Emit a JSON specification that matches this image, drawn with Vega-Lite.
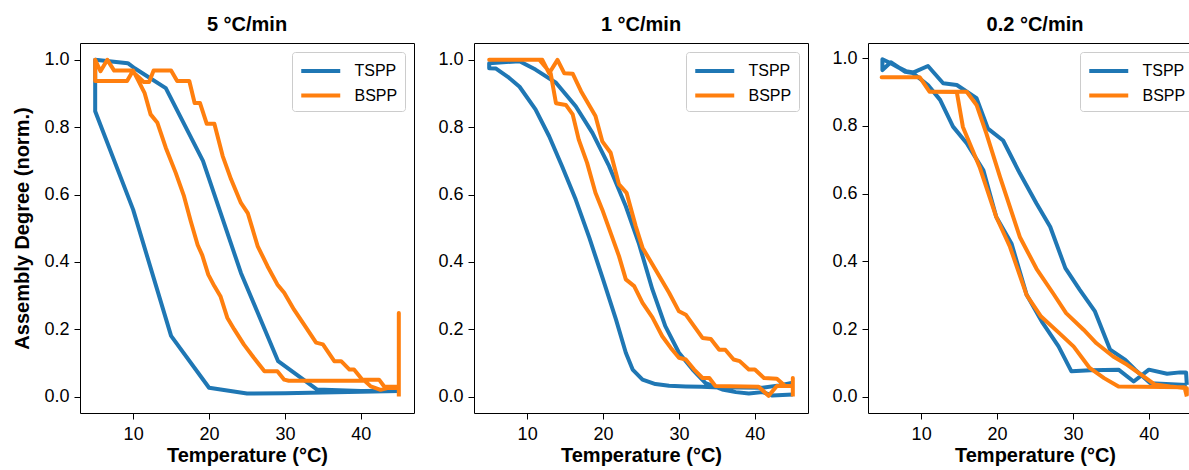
{
"$schema": "https://vega.github.io/schema/vega-lite/v6.json",
"padding": {"left": 12, "top": 14, "right": 0, "bottom": 0},
"spacing": 22,
"config": {
  "font": "Liberation Sans",
  "view": {"stroke": "#000", "strokeWidth": 1},
  "axis": {"domain": false, "grid": false, "tickColor": "#000", "tickSize": 6, "tickWidth": 1, "labelFont": "Liberation Sans", "labelFontSize": 18, "labelColor": "#000", "titleFont": "Liberation Sans", "titleFontSize": 20, "titleFontWeight": "bold", "titleColor": "#000"},
  "axisX": {"labelPadding": 6, "titlePadding": 2},
  "axisY": {"labelPadding": 5, "titlePadding": 11},
  "title": {"font": "Liberation Sans", "fontSize": 20, "fontWeight": "bold", "color": "#000", "offset": 8},
  "legend": {"orient": "top-right", "offset": 9, "padding": 7, "strokeColor": "#cccccc", "cornerRadius": 3, "fillColor": "rgba(255,255,255,0.8)", "symbolType": "M-1,0H3", "symbolSize": 380, "symbolStrokeWidth": 4, "labelFontSize": 16, "labelFont": "Liberation Sans", "labelColor": "#000", "labelOffset": 31.5, "rowPadding": 4.5}
},
"datasets": {
"r5": [
{"s":"TSPP","i":1,"t":45,"v":0.016},{"s":"TSPP","i":2,"t":40,"v":0.014},{"s":"TSPP","i":3,"t":35,"v":0.012},{"s":"TSPP","i":4,"t":30,"v":0.010},{"s":"TSPP","i":5,"t":25,"v":0.009},{"s":"TSPP","i":6,"t":20,"v":0.026},{"s":"TSPP","i":7,"t":15,"v":0.18},{"s":"TSPP","i":8,"t":10,"v":0.555},{"s":"TSPP","i":9,"t":5,"v":0.847},{"s":"TSPP","i":10,"t":5,"v":1.0},{"s":"TSPP","i":11,"t":9.3,"v":0.99},{"s":"TSPP","i":12,"t":10.2,"v":0.975},{"s":"TSPP","i":13,"t":14.3,"v":0.916},{"s":"TSPP","i":14,"t":19.2,"v":0.70},{"s":"TSPP","i":15,"t":24.2,"v":0.367},{"s":"TSPP","i":16,"t":29.1,"v":0.105},{"s":"TSPP","i":17,"t":34.2,"v":0.021},{"s":"TSPP","i":18,"t":40,"v":0.016},{"s":"TSPP","i":19,"t":45,"v":0.017},
{"s":"BSPP","i":1,"t":45,"v":0.0},{"s":"BSPP","i":2,"t":45,"v":0.248},{"s":"BSPP","i":3,"t":45,"v":0.025},{"s":"BSPP","i":4,"t":43.5,"v":0.025},{"s":"BSPP","i":5,"t":42.6,"v":0.02},{"s":"BSPP","i":6,"t":41.3,"v":0.03},{"s":"BSPP","i":7,"t":40.5,"v":0.047},{"s":"BSPP","i":8,"t":30.5,"v":0.047},{"s":"BSPP","i":9,"t":29.9,"v":0.05},{"s":"BSPP","i":10,"t":29,"v":0.075},{"s":"BSPP","i":11,"t":27.3,"v":0.075},{"s":"BSPP","i":12,"t":25.9,"v":0.115},{"s":"BSPP","i":13,"t":24.6,"v":0.154},{"s":"BSPP","i":14,"t":23.3,"v":0.2},{"s":"BSPP","i":15,"t":22.4,"v":0.234},{"s":"BSPP","i":16,"t":21.5,"v":0.298},{"s":"BSPP","i":17,"t":20.7,"v":0.328},{"s":"BSPP","i":18,"t":19.9,"v":0.362},{"s":"BSPP","i":19,"t":19.1,"v":0.42},{"s":"BSPP","i":20,"t":18.5,"v":0.45},{"s":"BSPP","i":21,"t":17.6,"v":0.52},{"s":"BSPP","i":22,"t":16.7,"v":0.595},{"s":"BSPP","i":23,"t":15.6,"v":0.665},{"s":"BSPP","i":24,"t":14.3,"v":0.739},{"s":"BSPP","i":25,"t":13.2,"v":0.813},{"s":"BSPP","i":26,"t":12.3,"v":0.838},{"s":"BSPP","i":27,"t":11.5,"v":0.902},{"s":"BSPP","i":28,"t":10.6,"v":0.942},{"s":"BSPP","i":29,"t":10,"v":0.968},{"s":"BSPP","i":30,"t":9.2,"v":0.937},{"s":"BSPP","i":31,"t":5,"v":0.937},{"s":"BSPP","i":32,"t":5,"v":1.0},{"s":"BSPP","i":33,"t":5.7,"v":0.966},{"s":"BSPP","i":34,"t":6.6,"v":1.0},{"s":"BSPP","i":35,"t":7.5,"v":0.968},{"s":"BSPP","i":36,"t":9.8,"v":0.968},{"s":"BSPP","i":37,"t":11.4,"v":0.934},{"s":"BSPP","i":38,"t":12.1,"v":0.934},{"s":"BSPP","i":39,"t":12.7,"v":0.968},{"s":"BSPP","i":40,"t":15,"v":0.968},{"s":"BSPP","i":41,"t":15.8,"v":0.937},{"s":"BSPP","i":42,"t":17.4,"v":0.937},{"s":"BSPP","i":43,"t":18.1,"v":0.872},{"s":"BSPP","i":44,"t":18.8,"v":0.872},{"s":"BSPP","i":45,"t":19.7,"v":0.81},{"s":"BSPP","i":46,"t":20.7,"v":0.81},{"s":"BSPP","i":47,"t":21.8,"v":0.714},{"s":"BSPP","i":48,"t":22.9,"v":0.645},{"s":"BSPP","i":49,"t":24.2,"v":0.575},{"s":"BSPP","i":50,"t":25.1,"v":0.545},{"s":"BSPP","i":51,"t":26.4,"v":0.447},{"s":"BSPP","i":52,"t":27.7,"v":0.387},{"s":"BSPP","i":53,"t":29,"v":0.333},{"s":"BSPP","i":54,"t":29.9,"v":0.308},{"s":"BSPP","i":55,"t":31.2,"v":0.258},{"s":"BSPP","i":56,"t":32.5,"v":0.214},{"s":"BSPP","i":57,"t":34.1,"v":0.16},{"s":"BSPP","i":58,"t":35,"v":0.155},{"s":"BSPP","i":59,"t":36.5,"v":0.105},{"s":"BSPP","i":60,"t":37.4,"v":0.105},{"s":"BSPP","i":61,"t":38.5,"v":0.08},{"s":"BSPP","i":62,"t":39.1,"v":0.08},{"s":"BSPP","i":63,"t":40.2,"v":0.05},{"s":"BSPP","i":64,"t":42.4,"v":0.05},{"s":"BSPP","i":65,"t":43.1,"v":0.029},{"s":"BSPP","i":66,"t":45,"v":0.029}
],
"r1": [
{"s":"TSPP","i":1,"t":45,"v":0.041},{"s":"TSPP","i":2,"t":43.2,"v":0.033},{"s":"TSPP","i":3,"t":41,"v":0.026},{"s":"TSPP","i":4,"t":38,"v":0.027},{"s":"TSPP","i":5,"t":35.3,"v":0.027},{"s":"TSPP","i":6,"t":33,"v":0.029},{"s":"TSPP","i":7,"t":30.9,"v":0.030},{"s":"TSPP","i":8,"t":28.7,"v":0.032},{"s":"TSPP","i":9,"t":26.9,"v":0.037},{"s":"TSPP","i":10,"t":25.2,"v":0.05},{"s":"TSPP","i":11,"t":23.9,"v":0.08},{"s":"TSPP","i":12,"t":23,"v":0.13},{"s":"TSPP","i":13,"t":21.7,"v":0.229},{"s":"TSPP","i":14,"t":20,"v":0.348},{"s":"TSPP","i":15,"t":18.2,"v":0.471},{"s":"TSPP","i":16,"t":16.4,"v":0.585},{"s":"TSPP","i":17,"t":14.6,"v":0.684},{"s":"TSPP","i":18,"t":12.9,"v":0.773},{"s":"TSPP","i":19,"t":11.1,"v":0.853},{"s":"TSPP","i":20,"t":9,"v":0.92},{"s":"TSPP","i":21,"t":7.6,"v":0.947},{"s":"TSPP","i":22,"t":5.9,"v":0.974},{"s":"TSPP","i":23,"t":5,"v":0.975},{"s":"TSPP","i":24,"t":5,"v":0.99},{"s":"TSPP","i":25,"t":9,"v":0.996},{"s":"TSPP","i":26,"t":11.1,"v":0.971},{"s":"TSPP","i":27,"t":13.8,"v":0.932},{"s":"TSPP","i":28,"t":16.4,"v":0.862},{"s":"TSPP","i":29,"t":18.6,"v":0.783},{"s":"TSPP","i":30,"t":20.8,"v":0.684},{"s":"TSPP","i":31,"t":23,"v":0.565},{"s":"TSPP","i":32,"t":24.7,"v":0.456},{"s":"TSPP","i":33,"t":26.5,"v":0.318},{"s":"TSPP","i":34,"t":28.2,"v":0.209},{"s":"TSPP","i":35,"t":30,"v":0.13},{"s":"TSPP","i":36,"t":31.8,"v":0.08},{"s":"TSPP","i":37,"t":33.5,"v":0.04},{"s":"TSPP","i":38,"t":35.7,"v":0.021},{"s":"TSPP","i":39,"t":37.5,"v":0.013},{"s":"TSPP","i":40,"t":39.2,"v":0.009},{"s":"TSPP","i":41,"t":41,"v":0.013},{"s":"TSPP","i":42,"t":42.3,"v":0.003},{"s":"TSPP","i":43,"t":45,"v":0.006},
{"s":"BSPP","i":1,"t":45,"v":0.0},{"s":"BSPP","i":2,"t":45,"v":0.055},{"s":"BSPP","i":3,"t":45,"v":0.031},{"s":"BSPP","i":4,"t":42.9,"v":0.031},{"s":"BSPP","i":5,"t":41.8,"v":0.002},{"s":"BSPP","i":6,"t":40.5,"v":0.029},{"s":"BSPP","i":7,"t":34.8,"v":0.031},{"s":"BSPP","i":8,"t":34,"v":0.055},{"s":"BSPP","i":9,"t":33.1,"v":0.055},{"s":"BSPP","i":10,"t":32,"v":0.08},{"s":"BSPP","i":11,"t":30.9,"v":0.11},{"s":"BSPP","i":12,"t":30,"v":0.115},{"s":"BSPP","i":13,"t":28.9,"v":0.145},{"s":"BSPP","i":14,"t":27.8,"v":0.179},{"s":"BSPP","i":15,"t":26.5,"v":0.235},{"s":"BSPP","i":16,"t":25.2,"v":0.278},{"s":"BSPP","i":17,"t":24.1,"v":0.328},{"s":"BSPP","i":18,"t":23,"v":0.348},{"s":"BSPP","i":19,"t":22.1,"v":0.417},{"s":"BSPP","i":20,"t":21,"v":0.486},{"s":"BSPP","i":21,"t":19.9,"v":0.555},{"s":"BSPP","i":22,"t":19,"v":0.605},{"s":"BSPP","i":23,"t":17.9,"v":0.694},{"s":"BSPP","i":24,"t":16.8,"v":0.763},{"s":"BSPP","i":25,"t":16,"v":0.838},{"s":"BSPP","i":26,"t":15.1,"v":0.866},{"s":"BSPP","i":27,"t":13.8,"v":0.871},{"s":"BSPP","i":28,"t":13.1,"v":0.96},{"s":"BSPP","i":29,"t":11.6,"v":1.0},{"s":"BSPP","i":30,"t":5,"v":1.0},{"s":"BSPP","i":31,"t":12,"v":1.0},{"s":"BSPP","i":32,"t":12.9,"v":0.96},{"s":"BSPP","i":33,"t":14,"v":1.0},{"s":"BSPP","i":34,"t":14.9,"v":0.96},{"s":"BSPP","i":35,"t":16,"v":0.959},{"s":"BSPP","i":36,"t":17.1,"v":0.907},{"s":"BSPP","i":37,"t":19,"v":0.833},{"s":"BSPP","i":38,"t":19.9,"v":0.758},{"s":"BSPP","i":39,"t":21,"v":0.724},{"s":"BSPP","i":40,"t":22.1,"v":0.63},{"s":"BSPP","i":41,"t":23.1,"v":0.605},{"s":"BSPP","i":42,"t":24.3,"v":0.506},{"s":"BSPP","i":43,"t":25.2,"v":0.442},{"s":"BSPP","i":44,"t":26.9,"v":0.377},{"s":"BSPP","i":45,"t":28.7,"v":0.308},{"s":"BSPP","i":46,"t":30,"v":0.253},{"s":"BSPP","i":47,"t":30.9,"v":0.243},{"s":"BSPP","i":48,"t":33.1,"v":0.174},{"s":"BSPP","i":49,"t":34.2,"v":0.171},{"s":"BSPP","i":50,"t":35.3,"v":0.139},{"s":"BSPP","i":51,"t":36.1,"v":0.139},{"s":"BSPP","i":52,"t":37.2,"v":0.11},{"s":"BSPP","i":53,"t":38,"v":0.105},{"s":"BSPP","i":54,"t":39.2,"v":0.08},{"s":"BSPP","i":55,"t":40,"v":0.08},{"s":"BSPP","i":56,"t":41.2,"v":0.055},{"s":"BSPP","i":57,"t":42.9,"v":0.053},{"s":"BSPP","i":58,"t":44,"v":0.031},{"s":"BSPP","i":59,"t":45,"v":0.031}
],
"r02": [
{"s":"TSPP","i":1,"t":45,"v":0.035},{"s":"TSPP","i":2,"t":44.9,"v":0.072},{"s":"TSPP","i":3,"t":44.1,"v":0.072},{"s":"TSPP","i":4,"t":42.4,"v":0.068},{"s":"TSPP","i":5,"t":40,"v":0.08},{"s":"TSPP","i":6,"t":38,"v":0.045},{"s":"TSPP","i":7,"t":36,"v":0.08},{"s":"TSPP","i":8,"t":32.3,"v":0.078},{"s":"TSPP","i":9,"t":29.8,"v":0.075},{"s":"TSPP","i":10,"t":28.1,"v":0.149},{"s":"TSPP","i":11,"t":25.9,"v":0.222},{"s":"TSPP","i":12,"t":23.9,"v":0.301},{"s":"TSPP","i":13,"t":21.9,"v":0.453},{"s":"TSPP","i":14,"t":19.9,"v":0.531},{"s":"TSPP","i":15,"t":18.2,"v":0.669},{"s":"TSPP","i":16,"t":16,"v":0.749},{"s":"TSPP","i":17,"t":14.2,"v":0.798},{"s":"TSPP","i":18,"t":12.5,"v":0.877},{"s":"TSPP","i":19,"t":10.9,"v":0.921},{"s":"TSPP","i":20,"t":8.9,"v":0.956},{"s":"TSPP","i":21,"t":7.9,"v":0.96},{"s":"TSPP","i":22,"t":6,"v":0.988},{"s":"TSPP","i":23,"t":4.9,"v":0.965},{"s":"TSPP","i":24,"t":4.9,"v":0.997},{"s":"TSPP","i":25,"t":6,"v":0.985},{"s":"TSPP","i":26,"t":7,"v":0.973},{"s":"TSPP","i":27,"t":8,"v":0.962},{"s":"TSPP","i":28,"t":9,"v":0.958},{"s":"TSPP","i":29,"t":10.9,"v":0.977},{"s":"TSPP","i":30,"t":12.9,"v":0.926},{"s":"TSPP","i":31,"t":14.7,"v":0.921},{"s":"TSPP","i":32,"t":17.3,"v":0.882},{"s":"TSPP","i":33,"t":18.8,"v":0.792},{"s":"TSPP","i":34,"t":20.8,"v":0.757},{"s":"TSPP","i":35,"t":23,"v":0.66},{"s":"TSPP","i":36,"t":25.2,"v":0.571},{"s":"TSPP","i":37,"t":27,"v":0.502},{"s":"TSPP","i":38,"t":29,"v":0.38},{"s":"TSPP","i":39,"t":30.9,"v":0.316},{"s":"TSPP","i":40,"t":32.9,"v":0.252},{"s":"TSPP","i":41,"t":34.9,"v":0.139},{"s":"TSPP","i":42,"t":36.9,"v":0.109},{"s":"TSPP","i":43,"t":38.2,"v":0.08},{"s":"TSPP","i":44,"t":40.2,"v":0.04},{"s":"TSPP","i":45,"t":45,"v":0.035},
{"s":"BSPP","i":1,"t":45,"v":0.001},{"s":"BSPP","i":2,"t":44.7,"v":0.028},{"s":"BSPP","i":3,"t":36,"v":0.03},{"s":"BSPP","i":4,"t":34.1,"v":0.055},{"s":"BSPP","i":5,"t":32.2,"v":0.085},{"s":"BSPP","i":6,"t":30.1,"v":0.148},{"s":"BSPP","i":7,"t":28.2,"v":0.188},{"s":"BSPP","i":8,"t":25.8,"v":0.237},{"s":"BSPP","i":9,"t":23.9,"v":0.3},{"s":"BSPP","i":10,"t":21.7,"v":0.443},{"s":"BSPP","i":11,"t":19.9,"v":0.531},{"s":"BSPP","i":12,"t":17.7,"v":0.679},{"s":"BSPP","i":13,"t":15.5,"v":0.797},{"s":"BSPP","i":14,"t":14.7,"v":0.9},{"s":"BSPP","i":15,"t":11.1,"v":0.901},{"s":"BSPP","i":16,"t":9.8,"v":0.944},{"s":"BSPP","i":17,"t":4.8,"v":0.944},{"s":"BSPP","i":18,"t":9.8,"v":0.944},{"s":"BSPP","i":19,"t":11.1,"v":0.901},{"s":"BSPP","i":20,"t":16,"v":0.901},{"s":"BSPP","i":21,"t":17.3,"v":0.862},{"s":"BSPP","i":22,"t":18.6,"v":0.777},{"s":"BSPP","i":23,"t":20.4,"v":0.649},{"s":"BSPP","i":24,"t":23,"v":0.472},{"s":"BSPP","i":25,"t":25.2,"v":0.378},{"s":"BSPP","i":26,"t":27.4,"v":0.305},{"s":"BSPP","i":27,"t":29.1,"v":0.247},{"s":"BSPP","i":28,"t":31.4,"v":0.198},{"s":"BSPP","i":29,"t":33.1,"v":0.158},{"s":"BSPP","i":30,"t":35.3,"v":0.119},{"s":"BSPP","i":31,"t":37.1,"v":0.095},{"s":"BSPP","i":32,"t":39.3,"v":0.06},{"s":"BSPP","i":33,"t":40.8,"v":0.036},{"s":"BSPP","i":34,"t":42.8,"v":0.03},{"s":"BSPP","i":35,"t":45,"v":0.025},{"s":"BSPP","i":36,"t":45,"v":0.005}
]
},
"resolve": {"legend": {"color": "independent"}},
"hconcat": [
{
  "width": 334, "height": 370,
  "title": "5 °C/min",
  "data": {"name": "r5"},
  "mark": {"type": "line", "strokeWidth": 4, "strokeJoin": "round"},
  "encoding": {
    "x": {"field": "t", "type": "quantitative", "scale": {"domain": [3, 47], "nice": false, "zero": false}, "axis": {"title": "Temperature (°C)", "values": [10, 20, 30, 40]}},
    "y": {"field": "v", "type": "quantitative", "scale": {"domain": [-0.049, 1.05], "nice": false}, "axis": {"title": "Assembly Degree (norm.)", "values": [0, 0.2, 0.4, 0.6, 0.8, 1.0], "format": ".1f"}},
    "color": {"field": "s", "type": "nominal", "scale": {"domain": ["TSPP", "BSPP"], "range": ["#1f77b4", "#ff7f0e"]}, "legend": {"title": null}},
    "order": {"field": "i", "type": "quantitative"}
  }
},
{
  "width": 334, "height": 370,
  "title": "1 °C/min",
  "data": {"name": "r1"},
  "mark": {"type": "line", "strokeWidth": 4, "strokeJoin": "round"},
  "encoding": {
    "x": {"field": "t", "type": "quantitative", "scale": {"domain": [3, 47], "nice": false, "zero": false}, "axis": {"title": "Temperature (°C)", "values": [10, 20, 30, 40]}},
    "y": {"field": "v", "type": "quantitative", "scale": {"domain": [-0.049, 1.05], "nice": false}, "axis": {"title": null, "values": [0, 0.2, 0.4, 0.6, 0.8, 1.0], "format": ".1f"}},
    "color": {"field": "s", "type": "nominal", "scale": {"domain": ["TSPP", "BSPP"], "range": ["#1f77b4", "#ff7f0e"]}, "legend": {"title": null}},
    "order": {"field": "i", "type": "quantitative"}
  }
},
{
  "width": 334, "height": 370,
  "title": "0.2 °C/min",
  "data": {"name": "r02"},
  "mark": {"type": "line", "strokeWidth": 4, "strokeJoin": "round"},
  "encoding": {
    "x": {"field": "t", "type": "quantitative", "scale": {"domain": [3, 47], "nice": false, "zero": false}, "axis": {"title": "Temperature (°C)", "values": [10, 20, 30, 40]}},
    "y": {"field": "v", "type": "quantitative", "scale": {"domain": [-0.048, 1.045], "nice": false}, "axis": {"title": null, "values": [0, 0.2, 0.4, 0.6, 0.8, 1.0], "format": ".1f"}},
    "color": {"field": "s", "type": "nominal", "scale": {"domain": ["TSPP", "BSPP"], "range": ["#1f77b4", "#ff7f0e"]}, "legend": {"title": null}},
    "order": {"field": "i", "type": "quantitative"}
  }
}
]
}
